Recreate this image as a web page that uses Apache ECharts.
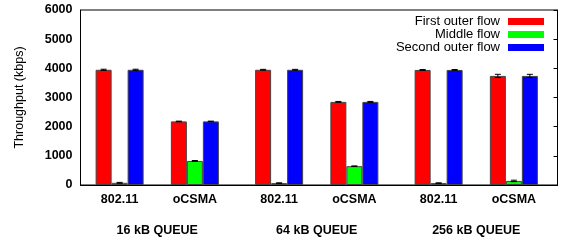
<!DOCTYPE html>
<html>
<head>
    <meta charset="utf-8">
    <script src="https://cdn.jsdelivr.net/npm/echarts@6/dist/echarts.min.js"></script>
    <style>
        * { margin: 0; padding: 0; }
        #view { width: 562px; height: 241px; background: #fff; }
    </style>
</head>
<body>
    <div id="view"></div>
    <script>
        // group positions on the x axis (gap between queue sizes a bit wider)
        var positions = [0, 1, 2.12, 3.12, 4.24, 5.24];
        var methods = ['802.11', 'oCSMA', '802.11', 'oCSMA', '802.11', 'oCSMA'];
        var queuePos = [0.5, 2.62, 4.74];
        var queues = ['16 kB QUEUE', '64 kB QUEUE', '256 kB QUEUE'];
        var flowNames = ['First outer flow', 'Middle flow', 'Second outer flow'];

        // throughput (kbps)
        var firstOuter = [3950, 2180, 3950, 2850, 3945, 3740];
        var middle = [75, 825, 65, 645, 65, 140];
        var secondOuter = [3950, 2180, 3950, 2850, 3945, 3740];
        // error bars
        var firstErr = [20, 10, 15, 15, 15, 55];
        var middleErr = [15, 15, 10, 10, 10, 25];
        var secondErr = [20, 10, 15, 15, 15, 55];

        var yTicks = [0, 1000, 2000, 3000, 4000, 5000, 6000];

        var colors = ['#ff0000', '#00ff00', '#0000ff'];
        var flows = [firstOuter, middle, secondOuter];
        var errs = [firstErr, middleErr, secondErr];
        var offsets = [-16, 0, 16];

        function pairs(vals, e) {
            return positions.map(function (p, i) {
                return e ? [p, vals[i], e[i]] : [p, vals[i]];
            });
        }

        var series = [];
        flows.forEach(function (vals, k) {
            series.push({
                name: flowNames[k],
                type: 'bar',
                barWidth: 16,
                barGap: '0%',
                itemStyle: { color: colors[k], borderColor: '#444', borderWidth: 1 },
                data: pairs(vals)
            });
        });
        // error bars
        errs.forEach(function (e, k) {
            series.push({
                type: 'custom',
                silent: true,
                z: 5,
                data: pairs(flows[k], e),
                renderItem: function (params, api) {
                    var x = api.value(0), y = api.value(1), d = api.value(2);
                    var hi = api.coord([x, y + d]);
                    var lo = api.coord([x, y - d]);
                    var cx = hi[0] + offsets[k];
                    var st = { stroke: '#000', lineWidth: 1 };
                    return {
                        type: 'group',
                        children: [
                            { type: 'line', shape: { x1: cx, y1: hi[1], x2: cx, y2: lo[1] }, style: st },
                            { type: 'line', shape: { x1: cx - 3, y1: hi[1], x2: cx + 3, y2: hi[1] }, style: st },
                            { type: 'line', shape: { x1: cx - 3, y1: lo[1], x2: cx + 3, y2: lo[1] }, style: st }
                        ]
                    };
                }
            });
        });

        var legends = flowNames.map(function (n, k) {
            return {
                data: [{ name: n, icon: 'rect' }],
                orient: 'vertical',
                align: 'right',
                right: 18,
                top: 15 + k * 13,
                itemWidth: 36,
                itemHeight: 7,
                itemGap: 0,
                padding: 0,
                selectedMode: false,
                itemStyle: { borderWidth: 0 },
                textStyle: { fontFamily: 'Liberation Sans', fontSize: 13, color: '#000', padding: [0, 3, 0, 0] }
            };
        });

        var view = echarts.init(document.getElementById('view'));
        var option = {
            animation: false,
            legend: legends,
            grid: {
                left: 80.5, right: 4.5, top: 10, bottom: 56,
                show: true, borderColor: '#000', borderWidth: 1, backgroundColor: 'transparent'
            },
            xAxis: [{
                type: 'value',
                min: -0.52,
                max: 5.82,
                splitLine: { show: false },
                axisTick: { show: false },
                axisLine: { show: true, onZero: false, lineStyle: { color: '#000' } },
                axisLabel: {
                    customValues: positions,
                    formatter: function (v) {
                        var i = positions.indexOf(v);
                        return i >= 0 ? methods[i] : '';
                    },
                    margin: 8,
                    color: '#000',
                    fontFamily: 'Liberation Sans',
                    fontWeight: 'bold',
                    fontSize: 12.5
                }
            }, {
                type: 'value',
                position: 'bottom',
                min: -0.52,
                max: 5.82,
                splitLine: { show: false },
                axisTick: { show: false },
                axisLine: { show: false, onZero: false },
                axisLabel: {
                    customValues: queuePos,
                    formatter: function (v) {
                        var i = queuePos.indexOf(v);
                        return i >= 0 ? queues[i] : '';
                    },
                    margin: 39,
                    color: '#000',
                    fontFamily: 'Liberation Sans',
                    fontWeight: 'bold',
                    fontSize: 12.5
                }
            }],
            yAxis: [{
                type: 'value',
                min: 0,
                max: 6000,
                interval: 1000,
                name: 'Throughput (kbps)',
                nameLocation: 'middle',
                nameGap: 54,
                nameTextStyle: { fontFamily: 'Liberation Sans', fontSize: 12.5, color: '#000' },
                splitLine: { show: false },
                axisTick: { show: false },
                axisLine: { show: true, onZero: false, lineStyle: { color: '#000' } },
                axisLabel: {
                    margin: 8,
                    color: '#000',
                    fontFamily: 'Liberation Sans',
                    fontWeight: 'bold',
                    fontSize: 12.5,
                    formatter: function (v) { return yTicks.indexOf(v) >= 0 ? String(v) : ''; }
                }
            }, {
                type: 'value',
                position: 'right',
                min: 0,
                max: 6000,
                interval: 1000,
                splitLine: { show: false },
                axisLine: { show: true, onZero: false, lineStyle: { color: '#000' } },
                axisTick: { show: true, inside: true, length: 4, lineStyle: { color: '#000' } },
                axisLabel: { show: false }
            }],
            series: series
        };
        view.setOption(option);
    </script>
</body>
</html>
